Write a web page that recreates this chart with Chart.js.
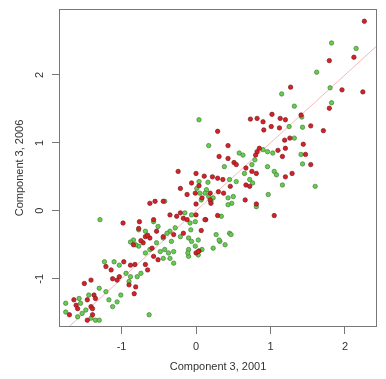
<!DOCTYPE html>
<html>
<head>
<meta charset="utf-8">
<script src="https://cdn.jsdelivr.net/npm/chart.js@4/dist/chart.umd.min.js"></script>
<style>
  html, body { margin: 0; padding: 0; background: #fff; }
</style>
</head>
<body>
<canvas id="chart" width="386" height="379"></canvas>
<script>
const xTicks = [-1, 0, 1, 2];
const yTicks = [-1, 0, 1, 2];
const xTitle = 'Component 3, 2001';
const yTitle = 'Component 3, 2006';

// red group
const redX = [2.26, 2.12, 1.79, 1.27, 1.96, 2.24, 1.79,
  0.29, 0.73, 0.82, 0.90, 1.02, 1.13, 1.20, 0.91, 1.01, 1.12, 1.54, 1.71, 1.41,
  1.19, 1.26, 1.44, 1.47, 1.54, 1.20, 1.16, 1.10, 0.82, 0.80, 0.85, 0.43, 0.31,
  0.43, 0.51, 0.54, 0.67, 0.75, 0.81, 1.20, 1.29, 0.00, 0.11, 0.22, 0.29, 0.36,
  0.67, 0.46, 0.72, -0.06, 0.04, -0.12, -0.01, 0.08, 0.19, 0.30, 0.37, 0.19,
  0.20, 0.66, 0.81, 0.00, 0.00, 0.29, 0.13, 1.05, 0.07, 0.04, 0.00,
  -0.24, -0.21, -0.55, -0.44, -0.62, -0.35, -0.26, -0.21, -0.17, -0.12, 0.12,
  -0.76, -0.57, -0.68, -0.62, -0.44, -0.53, -0.30, -0.17, 0.03, -0.84, -0.71,
  -0.59, -0.57, -0.51, -0.82, -0.68, -0.98, -0.77, -0.65, -0.74,
  -0.97, -0.88, -0.65, -1.21, -1.14, -1.12, -1.06, -1.03, -0.90, -0.81, -0.83,
  -1.50, -1.41, -1.37, -1.35, -1.41, -1.39, -1.64, -1.61, -1.59, -1.70, -1.46,
  -1.39, -1.46];
const redY = [2.79, 2.26, 2.21, 1.82, 1.78, 1.75, 1.51,
  1.17, 1.35, 1.36, 1.31, 1.42, 1.36, 1.34, 1.19, 1.24, 1.22, 1.25, 1.18, 1.41,
  1.04, 1.07, 0.98, 0.83, 0.68, 0.92, 0.80, 0.89, 0.87, 0.82, 0.92, 0.96, 0.80,
  0.77, 0.71, 0.68, 0.63, 0.58, 0.55, 0.50, 0.55, 0.55, 0.51, 0.50, 0.48, 0.46,
  0.38, 0.36, 0.36, 0.41, 0.37, 0.24, 0.26, 0.19, 0.26, 0.28, 0.26, 0.16,
  0.11, 0.16, 0.10, 0.10, -0.06, -0.07, -0.13, -0.07, -0.29, -0.59, -0.62,
  0.58, 0.33, 0.14, 0.14, 0.11, -0.06, -0.08, -0.03, -0.11, -0.13, -0.13,
  -0.16, -0.13, -0.38, -0.40, -0.38, -0.30, -0.35, -0.33, -0.60, -0.50, -0.47,
  -0.55, -0.67, -0.72, -0.79, -0.79, -0.18, -0.26, -0.36, -0.44,
  -0.75, -0.80, -0.87, -0.82, -0.87, -1.00, -1.02, -0.97, -1.09, -1.12, -1.22,
  -1.07, -1.02, -1.24, -1.29, -1.41, -1.44, -1.31, -1.39, -1.44, -1.53, -1.31,
  -1.53, -1.61];

// green group
const greenX = [1.82, 2.15, 1.62, 1.15, 1.80, 1.82, 1.32,
  0.04, 0.17, 1.25, 1.42, 1.43, 1.32, 1.41, 1.43, 1.60, 1.03, 0.96, 0.90, 0.58,
  0.63, 0.38, 0.96, 1.05, 1.08, 0.65, 0.72, 0.76, 1.16, 0.04, 0.16, 0.45, 0.54,
  0.75, 0.79, 0.01, 0.05, 0.14, 0.43, 0.50, 0.48, 0.97, 0.12, 0.17, 0.23,
  -0.42, -0.15, -0.06, -0.08, -0.01, -0.57, -0.51, -0.77, -0.68, -0.35, -0.28,
  -0.44, -0.39, -0.33, -0.21, -0.10, -0.06, -0.01, 0.03, 0.08, -0.84, -0.77,
  -0.68, -0.62, -0.53, -0.48, -0.42, -0.37, -0.30, -0.35, -0.30, -0.44, -0.10,
  -0.10, 0.03, 0.23, 0.32, 0.39, 0.07, 0.20, 0.43, 0.81, 0.34, -0.07, 0.45,
  0.47, 0.27, 0.31, -0.11, -1.29, -0.88, -0.81,
  -1.23, -1.10, -1.03, -0.94, -0.88, -0.90, -0.79, -0.74, -1.30, -1.21, -1.17,
  -1.06, -1.12, -1.01, -1.44, -1.57, -1.55, -1.48, -1.75, -1.75, -1.59, -1.53,
  -1.41, -1.35, -1.30, -0.63];
const greenY = [2.47, 2.39, 2.04, 1.72, 1.81, 1.59, 1.54,
  1.34, 0.96, 1.24, 1.38, 1.23, 1.07, 0.83, 0.69, 0.36, 0.85, 0.87, 0.90, 0.85,
  0.82, 0.65, 0.65, 0.58, 0.53, 0.55, 0.46, 0.41, 0.38, 0.43, 0.42, 0.46, 0.43,
  0.68, 0.75, 0.33, 0.26, 0.31, 0.19, 0.21, 0.11, 0.24, 0.26, 0.21, 0.19,
  0.14, -0.03, -0.06, -0.18, -0.16, -0.16, -0.23, -0.28, -0.30, -0.30, -0.25,
  -0.40, -0.33, -0.45, -0.38, -0.40, -0.45, -0.52, -0.43, -0.57, -0.43, -0.52,
  -0.62, -0.57, -0.47, -0.60, -0.57, -0.62, -0.60, -0.70, -0.77, -0.70, -0.57,
  -0.67, -0.65, -0.55, -0.45, -0.50, 0.16, 0.14, 0.09, 0.06, -0.08, -0.28, -0.33,
  -0.35, -0.35, -0.43, -0.62, -0.13, -0.46, -0.50,
  -0.75, -0.75, -0.80, -0.92, -0.97, -1.04, -0.97, -0.92, -1.14, -1.19, -1.31,
  -1.34, -1.41, -1.24, -1.24, -1.29, -1.36, -1.46, -1.36, -1.49, -1.56, -1.51,
  -1.58, -1.61, -1.61, -1.53];

// y = x reference line
const diagX = [-2, 3];
const diagY = [-2, 3];

const toPoints = (xs, ys) => xs.map((x, i) => ({ x: x, y: ys[i] }));
const font = '11px "Liberation Sans", Arial, sans-serif';

const frame = {
    id: 'frame',
    afterDraw(chart) {
        const { ctx, chartArea: a, scales } = chart;
        ctx.save();
        ctx.strokeStyle = '#777';
        ctx.lineWidth = 1;
        ctx.strokeRect(a.left + 0.5, a.top + 0.5, a.right - a.left - 1, a.bottom - a.top - 1);

        ctx.fillStyle = '#333';
        ctx.font = font;
        ctx.textAlign = 'center';
        ctx.textBaseline = 'middle';
        xTicks.forEach(v => {
            ctx.fillText(String(v), scales.x.getPixelForValue(v), a.bottom + 20);
        });
        yTicks.forEach(v => {
            ctx.save();
            ctx.translate(a.left - 19, scales.y.getPixelForValue(v));
            ctx.rotate(-Math.PI / 2);
            ctx.fillText(String(v), 0, 0);
            ctx.restore();
        });
        ctx.fillText(xTitle, (a.left + a.right) / 2, a.bottom + 40);
        ctx.translate(a.left - 39, (a.top + a.bottom) / 2);
        ctx.rotate(-Math.PI / 2);
        ctx.fillText(yTitle, 0, 0);
        ctx.restore();
    }
};

new Chart(document.getElementById('chart').getContext('2d'), {
    type: 'scatter',
    data: {
        datasets: [
            {
                label: 'red',
                data: toPoints(redX, redY),
                backgroundColor: '#d8202a',
                borderColor: '#7a1c1c',
                borderWidth: 0.7,
                pointRadius: 2.2,
                order: 1,
            },
            {
                label: 'green',
                data: toPoints(greenX, greenY),
                backgroundColor: '#62d048',
                borderColor: '#4a7a44',
                borderWidth: 0.7,
                pointRadius: 2.2,
                order: 2,
            },
            {
                type: 'line',
                label: 'diag',
                data: toPoints(diagX, diagY),
                borderColor: 'rgba(240,160,160,0.75)',
                borderWidth: 1,
                pointRadius: 0,
                order: 3,
            },
        ],
    },
    options: {
        responsive: false,
        animation: false,
        layout: { padding: { top: 9, right: 9, left: 0, bottom: 0 } },
        scales: {
            x: {
                type: 'linear',
                min: -1.84,
                max: 2.43,
                afterBuildTicks: s => { s.ticks = xTicks.map(v => ({ value: v })); },
                afterFit: s => { s.height = 52; },
                ticks: { display: false },
                grid: { drawOnChartArea: false, drawTicks: true, tickLength: 7, color: '#777' },
                border: { display: false },
            },
            y: {
                type: 'linear',
                min: -1.71,
                max: 2.97,
                afterBuildTicks: s => { s.ticks = yTicks.map(v => ({ value: v })); },
                afterFit: s => { s.width = 59; },
                ticks: { display: false },
                grid: { drawOnChartArea: false, drawTicks: true, tickLength: 7, color: '#777' },
                border: { display: false },
            },
        },
        plugins: {
            legend: { display: false },
            tooltip: { enabled: false },
        },
    },
    plugins: [frame],
});
</script>
</body>
</html>
